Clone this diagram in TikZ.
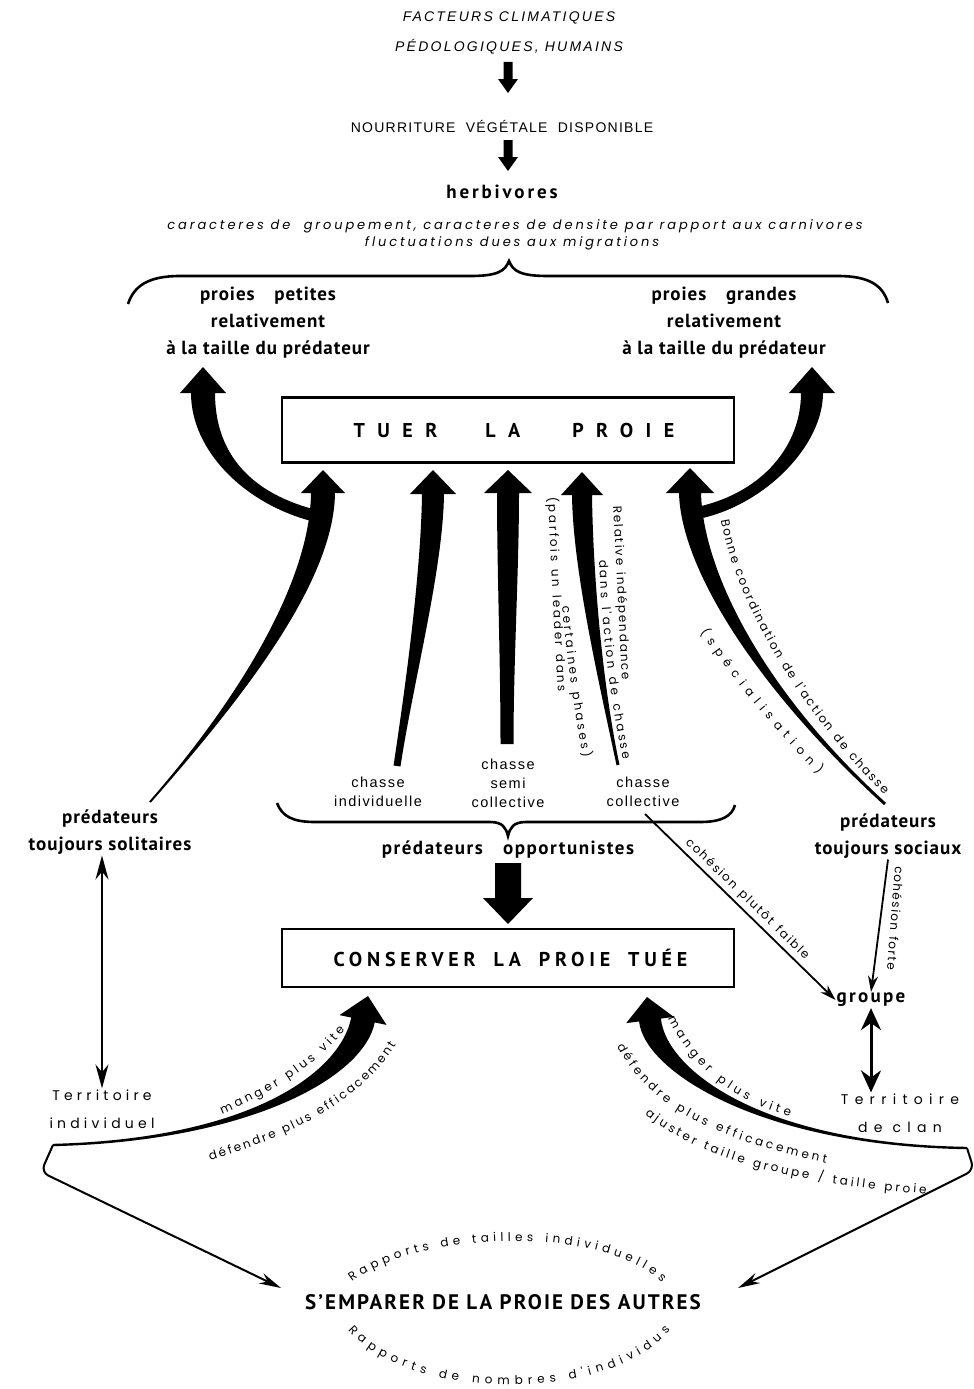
\documentclass[tikz,border=0pt]{standalone}
\usepackage{fontspec}
\setmainfont{PT Sans}
\setsansfont{Liberation Sans}
\newfontfamily\geo{Poppins}
\usetikzlibrary{calc,arrows.meta,decorations.text}

% fleche epaisse : queue, controle 1, controle 2, base de la pointe, pointe, demi-largeurs (queue, col, pointe)
\newcommand{\fatarrow}[8]{%
  \fill ($(#1)!#6!90:(#2)$) .. controls ($(#2)!#6!-90:(#1)$) and ($(#3)!#7!90:(#4)$) .. ($(#4)!#7!90:(#5)$)
    -- ($(#4)!#8!90:(#5)$) -- (#5) -- ($(#4)!#8!-90:(#5)$) -- ($(#4)!#7!-90:(#5)$)
    .. controls ($(#3)!#7!-90:(#4)$) and ($(#2)!#6!90:(#1)$) .. ($(#1)!#6!-90:(#2)$) -- cycle;}
\newcommand{\geotxt}{\geo\fontsize{12}{14}\selectfont}

\begin{document}
\begin{tikzpicture}[x=1pt, y=-1pt,
    gras/.style={font=\bfseries\fontsize{19}{27}\selectfont\addfontfeature{LetterSpace=5}, align=center, inner sep=1pt},
    boite/.style={draw, line width=2.2pt, minimum width=452pt, inner sep=0pt},
    capit/.style={font=\sffamily\fontsize{14}{16}\selectfont\addfontfeature{LetterSpace=9}, inner sep=1pt},
    capitit/.style={font=\sffamily\itshape\fontsize{14}{16}\selectfont\addfontfeature{LetterSpace=16}, inner sep=1pt},
    legende/.style={font=\geo\itshape\fontsize{13}{15}\selectfont\addfontfeature{LetterSpace=22}, inner sep=1pt},
    chasse/.style={font=\sffamily\fontsize{14.5}{19}\selectfont\addfontfeature{LetterSpace=10}, align=center, inner sep=1pt},
    terr/.style={font=\geo\fontsize{14}{28}\selectfont\addfontfeature{LetterSpace=30}, align=center, inner sep=1pt},
    courbe/.style={decorate, decoration={text along path, text={|\geotxt|#1}, text align={fit to path}}},
    accolade/.style={line width=2.6pt},
    fleche/.style={line width=1.8pt, -{Stealth[length=16pt,width=10pt]}},
    lfleche/.style={line width=2pt, -{Stealth[length=22pt,width=11pt]}},
    dfleche/.style={line width=1.8pt, {Stealth[length=24pt,width=13pt]}-{Stealth[length=24pt,width=13pt]}},
    gfleche/.style={line width=3pt, {Stealth[length=22pt,width=20pt]}-{Stealth[length=22pt,width=20pt]}}]
  \fill[white] (0,0) rectangle (974,1389);
  \useasboundingbox (0,0) rectangle (974,1389);

  % en-tete
  \node[capitit] (facteurs) at (509,18) {FACTEURS CLIMATIQUES};
  \node[capitit] (pedo) at (509,47) {PÉDOLOGIQUES, HUMAINS};
  \fatarrow{508,62}{508,68}{508,73}{508,79}{508,93}{4.5pt}{4.5pt}{10pt}
  \node[capit] (nourrit) at (502,126) {NOURRITURE\ \ VÉGÉTALE\ \ DISPONIBLE};
  \fatarrow{508,140}{508,146}{508,151}{508,157}{508,171}{4.5pt}{4.5pt}{10pt}
  \node[gras, font=\bfseries\fontsize{19}{22}\selectfont\addfontfeature{LetterSpace=15}] (herbiv) at (502,192) {herbivores};
  \node[legende] (caract) at (515,226) {caracteres de\ \ groupement, caracteres de densite par rapport aux carnivores};
  \node[legende] (fluct) at (512,243) {fluctuations dues aux migrations};
  \draw[accolade] (128,304) .. controls (134,286) and (148,276) .. (180,276) -- (470,276)
    .. controls (498,276) and (505,271) .. (509,261) .. controls (513,271) and (520,276) .. (548,276)
    -- (838,276) .. controls (870,276) and (883,286) .. (888,303);
  \node[gras] (petites) at (268,323) {proies\hspace{14pt} petites\\relativement\\à la taille du prédateur};
  \node[gras] (grandes) at (724,323) {proies\hspace{14pt} grandes\\relativement\\à la taille du prédateur};

  % tuer la proie
  \node[boite, minimum height=65pt, font=\bfseries\fontsize{20}{22}\selectfont\addfontfeature{LetterSpace=62}] (tuer) at (508,430) {\hspace{12pt}TUER\hspace{48pt}LA\hspace{52pt}PROIE};
  \fatarrow{312,515}{245,497}{203,450}{203,393}{203,367}{6pt}{12pt}{23pt}
  \fatarrow{150,802}{235,705}{322,585}{323,493}{323,470}{1pt}{12pt}{22pt}
  \fatarrow{397,766}{410,680}{432,570}{433,494}{433,470}{3.5pt}{11pt}{23pt}
  \fatarrow{507,744}{507,660}{508,570}{508,493}{508,470}{6.5pt}{11pt}{24pt}
  \fatarrow{618,765}{600,680}{583,570}{582,495}{582,472}{1.5pt}{10pt}{21pt}
  \fatarrow{885,804}{760,690}{692,570}{690,493}{690,468}{1.5pt}{11pt}{24pt}
  \fatarrow{702,512}{765,497}{812,445}{812,393}{812,367}{6pt}{11pt}{23pt}

  % textes le long des fleches
  \path[courbe={(parfois un leader dans}] (548,497) .. controls (551,560) and (554,630) .. (558,692);
  \path[courbe={certaines phases)}] (562,606) .. controls (567,660) and (574,710) .. (583,758);
  \path[courbe={Relative indépendance}] (613,506) .. controls (616,560) and (619,620) .. (622,680);
  \path[courbe={dans l'action de chasse}] (599,560) .. controls (602,630) and (610,700) .. (623,760);
  \path[courbe={Bonne coordination de l'action de chasse}] (721,520) .. controls (735,600) and (795,705) .. (884,795);
  \path[courbe={(spécialisation)}] (700,632) .. controls (740,690) and (780,735) .. (818,774);

  % predateurs
  \node[chasse] (chind) at (378,792) {chasse\\individuelle};
  \node[chasse] (chsemi) at (508,783) {chasse\\semi\\collective};
  \node[chasse] (chcoll) at (643,792) {chasse\\collective};
  \draw[accolade] (277,803) .. controls (282,816) and (292,822) .. (315,822) -- (490,822)
    .. controls (503,822) and (506,828) .. (508,836) .. controls (510,828) and (513,822) .. (526,822)
    -- (700,822) .. controls (722,822) and (732,816) .. (735,805);
  \node[gras, font=\bfseries\fontsize{19}{27}\selectfont\addfontfeature{LetterSpace=8}] (opport) at (508,850) {prédateurs\hspace{14pt} opportunistes};
  \node[gras] (solit) at (110,832) {prédateurs\\toujours solitaires};
  \node[gras] (sociaux) at (888,836) {prédateurs\\toujours sociaux};
  \fatarrow{508,863}{508,875}{508,885}{508,898}{508,924}{13pt}{13pt}{25pt}

  % conserver la proie
  \node[boite, minimum height=58pt, font=\bfseries\fontsize{20}{22}\selectfont\addfontfeature{LetterSpace=24}] (conserver) at (508,958) {\hspace{5pt}CONSERVER\hspace{8pt} LA\hspace{8pt} PROIE\hspace{8pt} TUÉE};
  \node[gras, font=\bfseries\fontsize{19}{22}\selectfont\addfontfeature{LetterSpace=12}] (groupe) at (871,1000) {groupe};
  \node[terr] (terrind) at (102,1109) {Territoire\\individuel};
  \node[terr, font=\geo\fontsize{14}{28}\selectfont\addfontfeature{LetterSpace=45}] (terrclan) at (900,1113) {Territoire\\de clan};
  \coordinate (coll) at (645,814);
  \draw[fleche] (coll) -- (groupe.west);
  \path[courbe={cohésion plutôt faible}] (685,843) -- (805,960);
  \draw[fleche] (sociaux.south) -- (groupe.north);
  \path[courbe={cohésion forte}] (895,866) -- (887,970);
  \draw[gfleche] (groupe.south) -- (groupe.south |- terrclan.north);
  \draw[dfleche] (terrind.north |- solit.south) -- (terrind.north);

  % conserver : fleches du bas
  \fatarrow{53,1145}{250,1140}{352,1075}{363,1020}{368,996}{1.2pt}{12pt}{24pt}
  \fatarrow{967,1148}{760,1145}{655,1070}{650,1020}{647,997}{1.2pt}{11pt}{24pt}
  \path[courbe={manger plus vite}] (222,1114) .. controls (265,1096) and (312,1070) .. (345,1030);
  \path[courbe={défendre plus efficacement}] (210,1160) .. controls (290,1137) and (360,1102) .. (396,1045);
  \path[courbe={manger plus vite}] (668,1018) .. controls (690,1065) and (730,1100) .. (790,1116);
  \path[courbe={défendre plus efficacement}] (617,1046) .. controls (650,1110) and (720,1140) .. (826,1163);
  \path[courbe={ajuster taille groupe / taille proie}] (645,1114) .. controls (700,1160) and (795,1184) .. (926,1194);

  % s'emparer de la proie des autres
  \node[gras, font=\bfseries\fontsize{21}{24}\selectfont\addfontfeature{LetterSpace=10}] (emparer) at (503,1302) {S'EMPARER DE LA PROIE DES AUTRES};
  \coordinate (empg) at (281,1288);
  \coordinate (empd) at (738,1288);
  \draw[lfleche, rounded corners=8pt] (53,1145) -- (41,1172) -- (empg);
  \draw[lfleche, rounded corners=8pt] (967,1148) -- (974,1170) -- (empd);
  \path[courbe={Rapports de tailles individuelles}] (352,1282) .. controls (420,1230) and (600,1225) .. (662,1282);
  \path[courbe={Rapports de nombres d'individus}] (348,1330) .. controls (410,1403) and (610,1403) .. (670,1330);
\end{tikzpicture}
\end{document}
